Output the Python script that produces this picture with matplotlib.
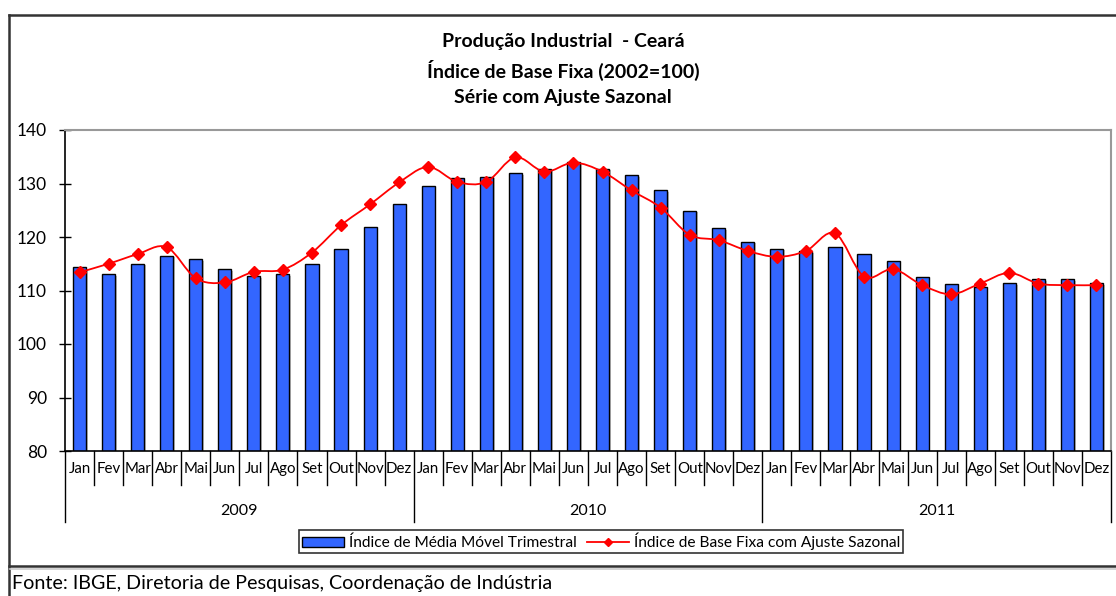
import numpy as np
import matplotlib
matplotlib.use('Agg')
import matplotlib.pyplot as plt
from matplotlib.path import Path
from matplotlib.patches import PathPatch, Patch
from matplotlib.lines import Line2D
import matplotlib.patheffects as pe

plt.rcParams['font.family'] = ['Lato', 'DejaVu Sans']

# Dados
meses = ['Jan', 'Fev', 'Mar', 'Abr', 'Mai', 'Jun', 'Jul', 'Ago', 'Set', 'Out', 'Nov', 'Dez']
anos = ['2009', '2010', '2011']

media_movel = [114.3, 113.0, 115.0, 116.5, 115.9, 114.0, 112.7, 113.0, 115.0, 117.8, 121.9, 126.1,
               129.6, 131.0, 131.3, 131.9, 132.7, 134.0, 132.8, 131.5, 128.7, 124.9, 121.6, 119.1,
               117.8, 117.3, 118.1, 116.8, 115.6, 112.6, 111.3, 110.7, 111.4, 112.1, 112.1, 111.4]

ajuste_sazonal = [113.4, 115.0, 116.8, 118.1, 112.3, 111.5, 113.5, 113.9, 117.1, 122.2, 126.1, 130.2,
                  133.1, 130.3, 130.3, 134.9, 132.2, 133.9, 132.2, 128.7, 125.5, 120.4, 119.4, 117.4,
                  116.3, 117.4, 120.7, 112.6, 114.0, 111.0, 109.3, 111.3, 113.3, 111.3, 111.0, 111.0]

AZUL = '#3366FF'
VERMELHO = '#FF0000'

fig = plt.figure(figsize=(11.16, 5.96), dpi=100)
ax = fig.add_axes([65 / 1116, 1 - 451 / 596, (1111 - 65) / 1116, (451 - 130) / 596])

n = len(media_movel)
x = np.arange(n)

# barras
bars = ax.bar(x, media_movel, width=0.45, color=AZUL, edgecolor='black', linewidth=1.0, zorder=2)
for b in bars:
    b.set_path_effects([pe.SimplePatchShadow(offset=(1.2, -1.2), shadow_rgbFace='#999999', alpha=0.6),
                        pe.Normal()])

# linha suavizada (bezier estilo Excel) passando pelos pontos
pts = np.column_stack([x, ajuste_sazonal]).astype(float)
verts = [tuple(pts[0])]
codes = [Path.MOVETO]
for i in range(n - 1):
    p0 = pts[max(i - 1, 0)]
    p1 = pts[i]
    p2 = pts[i + 1]
    p3 = pts[min(i + 2, n - 1)]
    c1 = p1 + (p2 - p0) / 6
    c2 = p2 - (p3 - p1) / 6
    verts += [tuple(c1), tuple(c2), tuple(p2)]
    codes += [Path.CURVE4] * 3
ax.add_patch(PathPatch(Path(verts, codes), facecolor='none', edgecolor=VERMELHO, linewidth=1.3, zorder=3))
ax.plot(x, ajuste_sazonal, linestyle='none', marker='D', markersize=6.5, color=VERMELHO, zorder=4)

ax.set_xlim(-0.5, n - 0.5)
ax.set_ylim(80, 140)
ax.set_yticks(np.arange(80, 141, 10))
ax.tick_params(axis='y', direction='inout', length=8, width=1, labelsize=12.5, pad=9)
ax.set_xticks([])

for s in ['top', 'right']:
    ax.spines[s].set_color('#999999')
    ax.spines[s].set_linewidth(1.5)
for s in ['left', 'bottom']:
    ax.spines[s].set_color('black')
    ax.spines[s].set_linewidth(1.2)

# eixo x em dois niveis
tr = ax.get_xaxis_transform()
for i in range(n):
    ax.text(i, -0.056, meses[i % 12], transform=tr, ha='center', va='center', fontsize=10.8)
for k in range(n + 1):
    ybot = -0.221 if k % 12 == 0 else -0.106
    ax.plot([k - 0.5, k - 0.5], [0, ybot], transform=tr, color='black', linewidth=1, clip_on=False)
for j, ano in enumerate(anos):
    ax.text(j * 12 + 5.5, -0.187, ano, transform=tr, ha='center', va='center', fontsize=11.5)

# titulo
for txt, ypx in [('Produção Industrial  - Ceará', 42),
                 ('Índice de Base Fixa (2002=100)', 70),
                 ('Série com Ajuste Sazonal', 98)]:
    fig.text(563 / 1116, 1 - ypx / 596, txt, ha='center', va='center', fontsize=14, fontweight='bold')

# legenda
handles = [Patch(facecolor=AZUL, edgecolor='black', linewidth=1.0),
           Line2D([], [], color=VERMELHO, linewidth=1.3, marker='D', markersize=4.5)]
labels = ['Índice de Média Móvel Trimestral', 'Índice de Base Fixa com Ajuste Sazonal']
leg = fig.legend(handles, labels, loc='center', bbox_to_anchor=(601 / 1116, 1 - 541.5 / 596), ncol=2,
                 frameon=True, fancybox=False, edgecolor='black', fontsize=11.2, handlelength=2.7,
                 handleheight=0.6, handletextpad=0.3, columnspacing=0.7, borderpad=0.2,
                 borderaxespad=0)
leg.get_frame().set_linewidth(1.2)

# bordas da area do grafico e rodape
def linha_fig(xs, ys, cor='#333333', lw=1.8):
    fig.add_artist(Line2D(xs, ys, transform=fig.transFigure, color=cor, linewidth=lw))

linha_fig([9 / 1116, 1], [1 - 15 / 596, 1 - 15 / 596])
linha_fig([9 / 1116, 9 / 1116], [1 - 15 / 596, 0])
linha_fig([9 / 1116, 1], [1 - 566 / 596, 1 - 566 / 596])
linha_fig([10 / 1116, 1], [1 - 568.5 / 596, 1 - 568.5 / 596], cor='#cccccc', lw=1.2)

fig.text(12 / 1116, 1 - 583 / 596, 'Fonte: IBGE, Diretoria de Pesquisas, Coordenação de Indústria',
         ha='left', va='center', fontsize=14.2)

fig.savefig('out.png', dpi=100)
plt.close(fig)
